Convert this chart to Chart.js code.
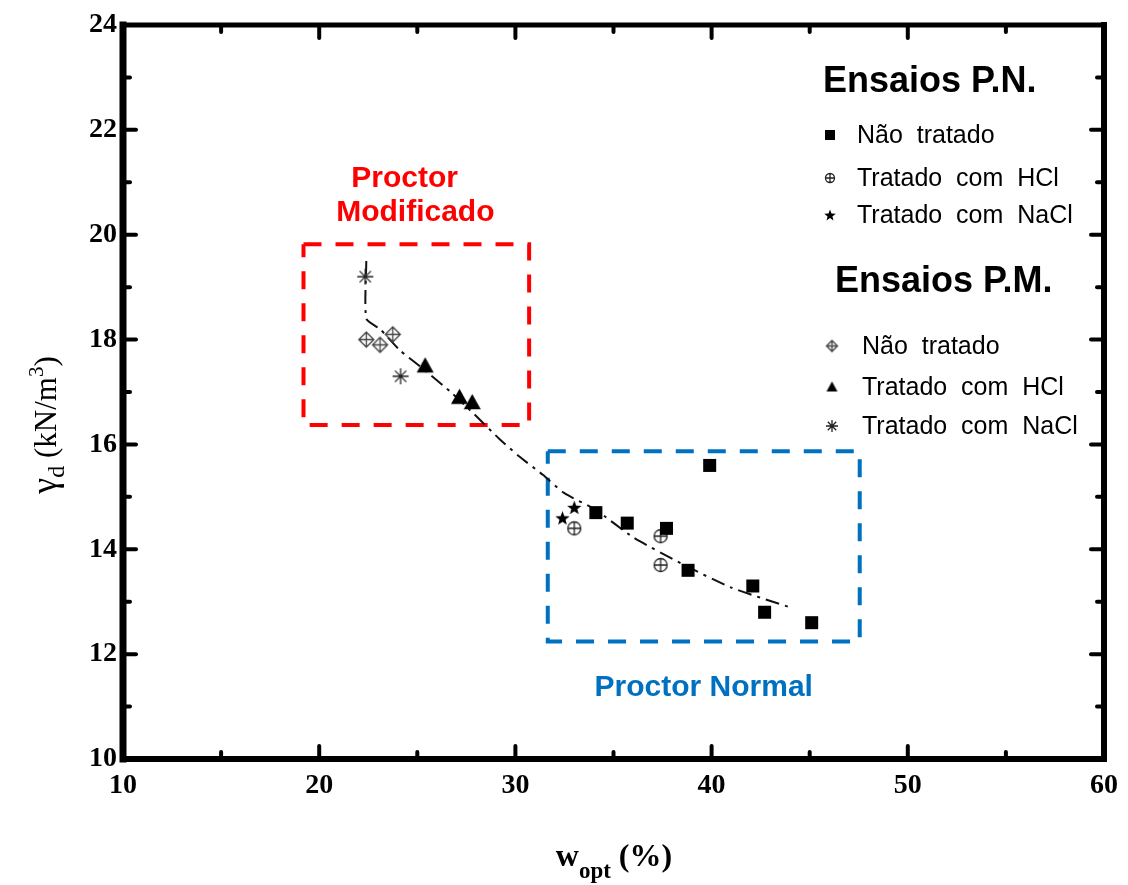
<!DOCTYPE html>
<html>
<head>
<meta charset="utf-8">
<script src="https://cdn.jsdelivr.net/npm/chart.js@4/dist/chart.umd.min.js"></script>
<style>
  body { margin: 0; background: #fff; }
  canvas { display: block; }
</style>
</head>
<body>
<canvas id="chart" width="1128" height="885"></canvas>
<script>
// Ensaios P.N. (Proctor Normal)
var pnUntreatedX = [39.9, 34.1, 35.7, 37.7, 38.8, 42.1, 42.7, 45.1]
var pnUntreatedY = [15.6, 14.7, 14.5, 14.4, 13.6, 13.3, 12.8, 12.6]
var pnHclX = [33.0, 37.4, 37.4]
var pnHclY = [14.4, 14.25, 13.7]
var pnNaclX = [32.4, 33.0]
var pnNaclY = [14.6, 14.8]

// Ensaios P.M. (Proctor Modificado)
var pmUntreatedX = [22.4, 23.1, 23.75]
var pmUntreatedY = [18.0, 17.9, 18.1]
var pmHclX = [25.4, 27.15, 27.8]
var pmHclY = [17.5, 16.9, 16.8]
var pmNaclX = [22.35, 24.15]
var pmNaclY = [19.2, 17.3]

// dash-dot trend line
var trendX = [22.4, 22.4, 23.1, 24.1, 25.1, 26.7, 27.7, 29.2, 30.2, 31.4, 32.5, 34.1, 36.0, 38.6, 41.0, 44.1]
var trendY = [19.5, 18.4, 18.2, 17.8, 17.5, 17.0, 16.65, 16.1, 15.77, 15.42, 15.07, 14.75, 14.23, 13.7, 13.27, 12.88]

// dashed boxes (x range, y range)
var boxPM = [19.2, 30.7, 16.37, 19.82]
var boxPN = [31.65, 47.55, 12.24, 15.87]

var xTicks = [10, 20, 30, 40, 50, 60]
var yTicks = [10, 12, 14, 16, 18, 20, 22, 24]

function toPoints(xs, ys) {
  return xs.map(function(x, i) { return {x: x, y: ys[i]} })
}
function boxPoints(b) {
  return [{x: b[0], y: b[3]}, {x: b[1], y: b[3]}, {x: b[1], y: b[2]}, {x: b[0], y: b[2]}, {x: b[0], y: b[3]}]
}

// marker images, drawn once on small canvases
function makeMarker(kind, size) {
  var c = document.createElement("canvas")
  c.width = c.height = size + 4
  var g = c.getContext("2d")
  var m = (size + 4) / 2
  var r = size / 2
  g.strokeStyle = "#000"
  g.fillStyle = "#000"
  g.lineWidth = 1.3
  switch (kind) {
    case "square":
      g.fillRect(m - r, m - r, size, size)
      break
    case "circlePlus":
      g.strokeStyle = "#222"
      g.beginPath()
      g.arc(m, m, r - 0.5, 0, Math.PI * 2)
      g.moveTo(m - r, m); g.lineTo(m + r, m)
      g.moveTo(m, m - r); g.lineTo(m, m + r)
      g.stroke()
      break
    case "star":
      g.beginPath()
      for (var i = 0; i < 10; i++) {
        var rr = i % 2 ? r * 0.42 : r
        var a = -Math.PI / 2 + i * Math.PI / 5
        g.lineTo(m + rr * Math.cos(a), m + rr * Math.sin(a) + r * 0.1)
      }
      g.closePath()
      g.fill()
      break
    case "diamondPlus":
      g.strokeStyle = "#444"
      g.beginPath()
      g.moveTo(m, m - r); g.lineTo(m + r, m); g.lineTo(m, m + r); g.lineTo(m - r, m); g.closePath()
      g.moveTo(m - r, m); g.lineTo(m + r, m)
      g.moveTo(m, m - r); g.lineTo(m, m + r)
      g.stroke()
      break
    case "triangle":
      g.beginPath()
      g.moveTo(m, m - r); g.lineTo(m + r, m + r * 0.8); g.lineTo(m - r, m + r * 0.8); g.closePath()
      g.fill()
      break
    case "asterisk":
      g.strokeStyle = "#222"
      g.beginPath()
      for (var k = 0; k < 4; k++) {
        var ang = k * Math.PI / 4
        g.moveTo(m - r * Math.cos(ang), m - r * Math.sin(ang))
        g.lineTo(m + r * Math.cos(ang), m + r * Math.sin(ang))
      }
      g.stroke()
      break
  }
  return c
}

var mk = {
  square: makeMarker("square", 13),
  circlePlus: makeMarker("circlePlus", 14),
  star: makeMarker("star", 15),
  diamondPlus: makeMarker("diamondPlus", 15),
  triangle: makeMarker("triangle", 17),
  asterisk: makeMarker("asterisk", 16),
}
var lg = {
  square: makeMarker("square", 10),
  circlePlus: makeMarker("circlePlus", 10),
  star: makeMarker("star", 12),
  diamondPlus: makeMarker("diamondPlus", 11),
  triangle: makeMarker("triangle", 11),
  asterisk: makeMarker("asterisk", 12),
}

function markerSet(label, pts, style) {
  return {
    label: label,
    data: pts,
    pointStyle: style,
    pointRadius: 7,
    pointHoverRadius: 7,
    showLine: false,
  }
}

var serif = "'Liberation Serif', 'Times New Roman', serif"
var sans = "'Liberation Sans', Arial, sans-serif"

// frame, inward ticks, axis titles, region labels and the legend
var decor = {
  id: "decor",
  afterDraw: function(chart) {
    var ctx = chart.ctx
    var a = chart.chartArea
    var xs = chart.scales.x
    var ys = chart.scales.y
    ctx.save()

    // frame
    ctx.strokeStyle = "#000"
    ctx.lineCap = "square"
    function line(x1, y1, x2, y2, w) {
      ctx.lineWidth = w
      ctx.beginPath(); ctx.moveTo(x1, y1); ctx.lineTo(x2, y2); ctx.stroke()
    }
    line(a.left, a.top, a.right, a.top, 5)
    line(a.right, a.top, a.right, a.bottom, 6)
    line(a.left, a.bottom, a.right, a.bottom, 6)
    line(a.left, a.top, a.left, a.bottom, 7)

    // ticks pointing inwards on all four sides
    ctx.lineCap = "round"
    for (var v = 15; v < 60; v += 5) {
      var px = xs.getPixelForValue(v)
      var len = v % 10 === 0 ? 13 : 7
      line(px, a.bottom, px, a.bottom - len, 4)
      line(px, a.top, px, a.top + len, 4)
    }
    for (var w = 11; w < 24; w++) {
      var py = ys.getPixelForValue(w)
      var l2 = w % 2 === 0 ? 13 : 7
      line(a.left, py, a.left + l2, py, 4)
      line(a.right, py, a.right - l2, py, 4)
    }

    // text runs with sub/superscripts
    function runs(parts, cx, cy) {
      var total = 0
      parts.forEach(function(p) { ctx.font = p[1]; total += ctx.measureText(p[0]).width })
      var x = cx - total / 2
      parts.forEach(function(p) {
        ctx.font = p[1]
        ctx.fillText(p[0], x, cy + p[2])
        x += ctx.measureText(p[0]).width
      })
    }
    ctx.fillStyle = "#000"
    ctx.textBaseline = "alphabetic"
    ctx.textAlign = "left"

    // y title, rotated
    ctx.save()
    ctx.translate(56, 425)
    ctx.rotate(-Math.PI / 2)
    runs([
      ["\u03b3", "36px " + serif, 0],
      ["d", "24px " + serif, 8],
      [" (kN/m", "31px " + serif, 0],
      ["3", "21px " + serif, -13],
      [")", "31px " + serif, 0],
    ], 0, 0)
    ctx.restore()

    // x title
    runs([
      ["w", "bold 32px " + serif, 0],
      ["opt", "bold 23px " + serif, 12],
      [" (%)", "bold 32px " + serif, 0],
    ], 614, 866)

    // region labels
    ctx.textAlign = "center"
    ctx.textBaseline = "middle"
    ctx.font = "bold 30px " + sans
    ctx.fillStyle = "#ff0000"
    ctx.fillText("Proctor", xs.getPixelForValue(24.35), ys.getPixelForValue(21.07))
    ctx.fillText("Modificado", xs.getPixelForValue(24.9), ys.getPixelForValue(20.42))
    ctx.fillStyle = "#0070c0"
    ctx.fillText("Proctor Normal", xs.getPixelForValue(39.6), ys.getPixelForValue(11.35))

    // legend
    ctx.fillStyle = "#000"
    ctx.textAlign = "left"
    ctx.font = "bold 36px " + sans
    ctx.fillText("Ensaios P.N.", 823, 82)
    ctx.fillText("Ensaios P.M.", 835, 282)
    ctx.font = "25px " + sans
    var rows = [
      [lg.square, "N\u00e3o  tratado", 830, 857, 135],
      [lg.circlePlus, "Tratado  com  HCl", 830, 857, 178],
      [lg.star, "Tratado  com  NaCl", 830, 857, 215],
      [lg.diamondPlus, "N\u00e3o  tratado", 832, 862, 346],
      [lg.triangle, "Tratado  com  HCl", 832, 862, 387],
      [lg.asterisk, "Tratado  com  NaCl", 832, 862, 426],
    ]
    rows.forEach(function(r) {
      ctx.drawImage(r[0], r[2] - r[0].width / 2, r[4] - r[0].height / 2)
      ctx.fillText(r[1], r[3], r[4] + 1)
    })
    ctx.restore()
  }
}

new Chart(document.getElementById("chart"), {
  type: "scatter",
  data: {
    datasets: [
      markerSet("P.N. Não tratado", toPoints(pnUntreatedX, pnUntreatedY), mk.square),
      markerSet("P.N. Tratado com HCl", toPoints(pnHclX, pnHclY), mk.circlePlus),
      markerSet("P.N. Tratado com NaCl", toPoints(pnNaclX, pnNaclY), mk.star),
      markerSet("P.M. Não tratado", toPoints(pmUntreatedX, pmUntreatedY), mk.diamondPlus),
      markerSet("P.M. Tratado com HCl", toPoints(pmHclX, pmHclY), mk.triangle),
      markerSet("P.M. Tratado com NaCl", toPoints(pmNaclX, pmNaclY), mk.asterisk),
      {
        label: "trend",
        data: toPoints(trendX, trendY),
        showLine: true,
        borderColor: "#111",
        borderWidth: 2,
        borderDash: [14, 6, 3, 6],
        pointRadius: 0,
        tension: 0.2,
      },
      {
        label: "Proctor Modificado",
        data: boxPoints(boxPM),
        showLine: true,
        borderColor: "#ff0000",
        borderWidth: 4,
        borderDash: [18, 14],
        pointRadius: 0,
      },
      {
        label: "Proctor Normal",
        data: boxPoints(boxPN),
        showLine: true,
        borderColor: "#0070c0",
        borderWidth: 4,
        borderDash: [18, 14],
        pointRadius: 0,
      },
    ],
  },
  options: {
    responsive: false,
    animation: false,
    devicePixelRatio: 1,
    layout: { padding: { top: 25, right: 24, left: 0, bottom: 0 } },
    plugins: {
      legend: { display: false },
      tooltip: { enabled: false },
    },
    scales: {
      x: {
        type: "linear",
        min: 10,
        max: 60,
        afterFit: function(s) { s.height = 126 },
        afterBuildTicks: function(s) { s.ticks = xTicks.map(function(v) { return {value: v} }) },
        grid: { display: false, drawTicks: false },
        border: { display: false },
        ticks: {
          autoSkip: false,
          maxRotation: 0,
          padding: 10,
          color: "#000",
          font: { family: serif, size: 28, weight: "bold" },
        },
      },
      y: {
        type: "linear",
        min: 10,
        max: 24,
        afterFit: function(s) { s.width = 123 },
        afterBuildTicks: function(s) { s.ticks = yTicks.map(function(v) { return {value: v} }) },
        grid: { display: false, drawTicks: false },
        border: { display: false },
        ticks: {
          autoSkip: false,
          padding: 6,
          color: "#000",
          font: { family: serif, size: 28, weight: "bold" },
        },
      },
    },
  },
  plugins: [decor],
})
</script>
</body>
</html>
